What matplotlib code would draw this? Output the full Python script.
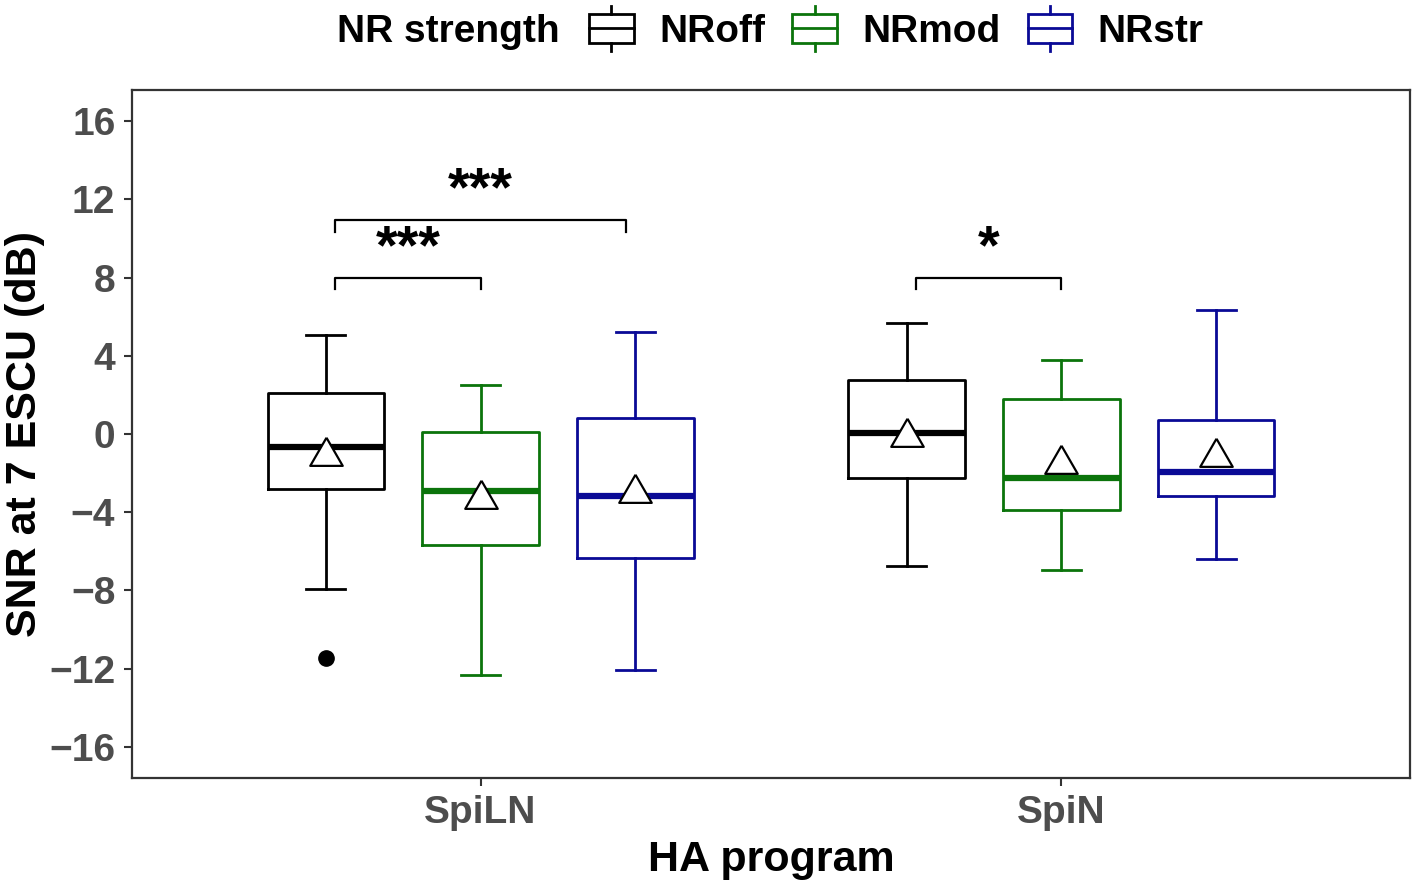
import matplotlib
matplotlib.use("Agg")
import matplotlib.pyplot as plt
from matplotlib.legend_handler import HandlerBase
from matplotlib.patches import Rectangle, Patch
from matplotlib.lines import Line2D

plt.rcParams['font.family'] = ['Liberation Sans', 'DejaVu Sans']
plt.rcParams['font.weight'] = 'bold'

# data
programs = ['SpiLN', 'SpiN']
strengths = ['NRoff', 'NRmod', 'NRstr']
colors = ['#000000', '#0b740b', '#0a0a96']

whis_hi = [[5.09, 2.50, 5.22], [5.70, 3.81, 6.33]]
q3 = [[2.12, 0.09, 0.83], [2.76, 1.77, 0.71]]
median = [[-0.65, -2.94, -3.16], [0.07, -2.23, -1.92]]
q1 = [[-2.80, -5.66, -6.34], [-2.23, -3.88, -3.15]]
whis_lo = [[-7.92, -12.33, -12.07], [-6.73, -6.94, -6.39]]
means = [[-1.13, -3.30, -3.04], [-0.14, -1.52, -1.16]]
outliers = [[[-11.44], [], []], [[], [], []]]

# significance brackets: (x start, x end, height, label)
sig_x0 = [0.75, 0.75, 1.75]
sig_x1 = [1.0, 1.25, 2.0]
sig_y = [8.0, 10.95, 8.0]
sig_lab = ['***', '***', '*']

dodge = 0.8 / 3
box_w = 0.2

fig = plt.figure(figsize=(14.17, 8.89), dpi=100)
ax = fig.add_axes([132 / 1417, 1 - 778 / 889, 1278 / 1417, 688 / 889])

# equilateral open triangle centred on its centroid (like R pch 2)
tri = [(0, 1), (-0.866, -0.5), (0.866, -0.5), (0, 1)]

for g in range(len(programs)):
    for k in range(len(strengths)):
        st = [dict(med=median[g][k], q1=q1[g][k], q3=q3[g][k],
                   whislo=whis_lo[g][k], whishi=whis_hi[g][k],
                   mean=means[g][k], fliers=outliers[g][k])]
        c = colors[k]
        bp = ax.bxp(st, positions=[g + 1 + (k - 1) * dodge], widths=box_w,
                    showmeans=True, patch_artist=False, manage_ticks=False,
                    boxprops=dict(color=c, lw=2.0),
                    whiskerprops=dict(color=c, lw=2.0),
                    capprops=dict(color=c, lw=2.0),
                    capwidths=box_w / 3,
                    medianprops=dict(color=c, lw=4.5, solid_capstyle='butt'),
                    meanprops=dict(marker=tri, markersize=27, markerfacecolor='white',
                                   markeredgecolor='black', markeredgewidth=1.6),
                    flierprops=dict(marker='o', markersize=11, markerfacecolor='black',
                                    markeredgecolor='black'))
        for m in bp['means']:
            m.set_zorder(5)

for x0, x1, y, lab in zip(sig_x0, sig_x1, sig_y, sig_lab):
    ax.plot([x0, x0, x1, x1], [y - 0.6, y, y, y - 0.6], color='black', lw=1.6)
    ax.text((x0 + x1) / 2, y + 0.75, lab, ha='center', va='baseline',
            fontsize=40, fontweight='bold', color='black')

ax.set_xlim(0.4, 2.6)
ax.set_ylim(-17.6, 17.6)
ax.set_xticks([1, 2])
ax.set_xticklabels(programs)
ax.set_yticks(range(-16, 17, 4))
ax.tick_params(axis='both', colors='#333333', labelcolor='#4d4d4d', labelsize=28,
               length=6, width=1.5, pad=6)
for sp in ax.spines.values():
    sp.set_color('#333333')
    sp.set_linewidth(1.6)

ax.set_xlabel('HA program', fontsize=31, fontweight='bold')
ax.xaxis.set_label_coords(0.5, -0.09)
ax.set_ylabel('SNR at 7 ESCU (dB)', fontsize=31, fontweight='bold')
ax.yaxis.set_label_coords(-0.068, 0.5)


class BoxHandler(HandlerBase):
    def create_artists(self, legend, orig_handle, xdescent, ydescent, width,
                       height, fontsize, trans):
        c = orig_handle.get_edgecolor()
        x0, y0 = -xdescent, -ydescent
        cx = x0 + width / 2
        box = Rectangle((x0, y0), width, height, fill=False, ec=c, lw=2.0,
                        transform=trans)
        mid = Line2D([x0, x0 + width], [y0 + height / 2] * 2, color=c, lw=2.0,
                     transform=trans)
        top = Line2D([cx, cx], [y0 + height, y0 + height * 1.3], color=c, lw=2.0,
                     transform=trans)
        bot = Line2D([cx, cx], [y0, y0 - height * 0.3], color=c, lw=2.0,
                     transform=trans)
        return [box, mid, top, bot]


handles = [Patch(facecolor='none', edgecolor=c) for c in colors]
fig.legend(handles, strengths, handler_map={Patch: BoxHandler()}, ncol=3,
           loc='center left', bbox_to_anchor=(589 / 1417, 1 - 32 / 889),
           frameon=False, prop=dict(size=28, weight='bold'), borderpad=0,
           borderaxespad=0, handlelength=1.15, handleheight=0.75,
           handletextpad=0.65, columnspacing=0.7)
fig.text(337 / 1417, 1 - 32 / 889, 'NR strength', fontsize=28, fontweight='bold',
         ha='left', va='center')

fig.savefig('out.png', dpi=100)
